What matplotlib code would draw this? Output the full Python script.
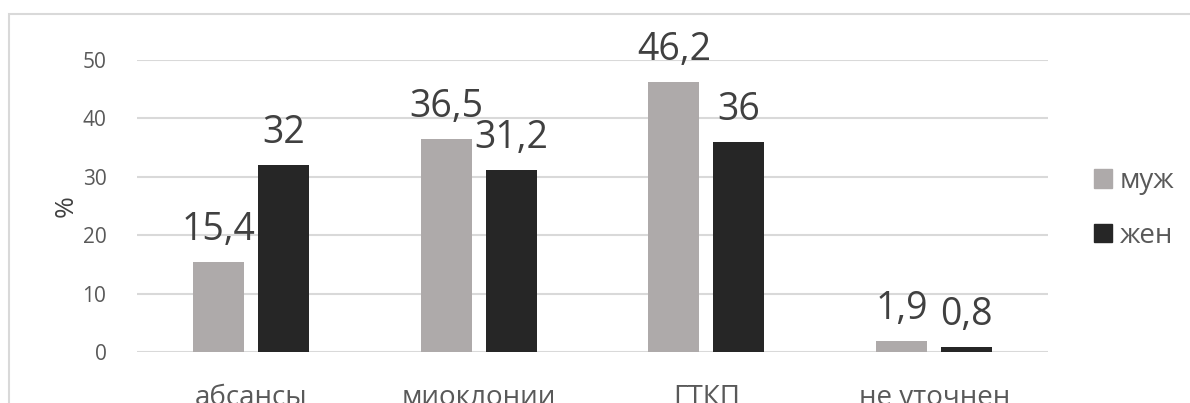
import numpy as np
import matplotlib.pyplot as plt
from matplotlib.patches import Patch, Rectangle

# данные по типам приступов
categories = ['абсансы', 'миоклонии', 'ГТКП', 'не уточнен']
muzh = [15.4, 36.5, 46.2, 1.9]
zhen = [32, 31.2, 36, 0.8]
muzh_labels = ['15,4', '36,5', '46,2', '1,9']
zhen_labels = ['32', '31,2', '36', '0,8']

plt.rcParams['font.family'] = ['Open Sans', 'DejaVu Sans']

fig = plt.figure(figsize=(11.9, 4.03), dpi=100)
ax = fig.add_axes([0.1151, 0.1266, 0.7656, 0.7245])

x = np.arange(len(categories))
w = 0.224
off = 0.1427
c_m = '#AEAAAA'
c_z = '#262626'
b1 = ax.bar(x - off, muzh, w, color=c_m, zorder=3)
b2 = ax.bar(x + off, zhen, w, color=c_z, zorder=3)

# подписи значений над столбцами
for bars, labels in [(b1, muzh_labels), (b2, zhen_labels)]:
    for b, lab in zip(bars, labels):
        ax.annotate(lab, (b.get_x() + b.get_width() / 2, b.get_height()),
                    xytext=(0, 16), textcoords='offset points',
                    ha='center', va='baseline', fontsize=27, color='#404040')

ax.set_xlim(-0.5, 3.5)
ax.set_ylim(0, 50)
ax.set_yticks(range(0, 51, 10))
ax.set_xticks(x)
ax.set_xticklabels(categories, fontsize=20, color='#595959')
ax.tick_params(axis='y', labelsize=15, labelcolor='#595959', length=0, pad=22)
ax.tick_params(axis='x', length=0, pad=23)
ax.grid(axis='y', color='#D9D9D9', linewidth=1.5, zorder=0)
for s in ax.spines.values():
    s.set_visible(False)
ax.set_ylabel('%', fontsize=19, color='#404040', labelpad=3)

ax.legend(handles=[Patch(color=c_m, label='муж'), Patch(color=c_z, label='жен')],
          loc='center left', bbox_to_anchor=(1.05, 0.491), frameon=False,
          borderaxespad=0, borderpad=0,
          fontsize=20, handlelength=0.65, handleheight=0.65, handletextpad=0.3,
          labelspacing=0.95, labelcolor='#595959')

# рамка области диаграммы
fig.patches.append(Rectangle((9 / 1190, -0.1), 1.2, 0.1 + (403 - 14) / 403,
                             transform=fig.transFigure, fill=False,
                             edgecolor='#D9D9D9', linewidth=1.5))

fig.savefig('out.png', dpi=100, facecolor='white')
